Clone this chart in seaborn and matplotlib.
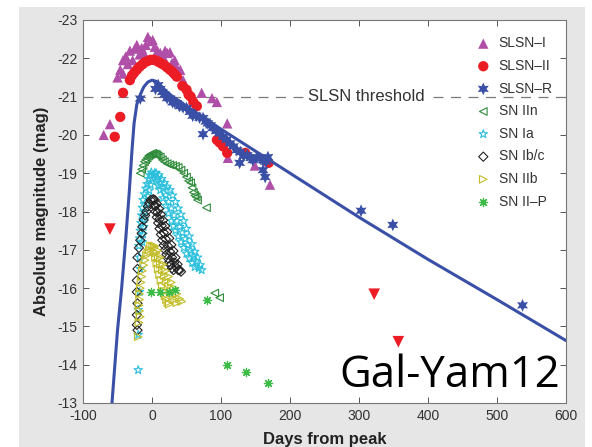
import matplotlib
matplotlib.use("Agg")
import matplotlib.pyplot as plt
from matplotlib.patches import Rectangle
import seaborn as sns

# days from peak / absolute magnitude
slsn1_d = [-70, -61, -50, -46, -42, -42, -38, -35, -32, -28, -25, -22, -18, -15, -12, -9, -6, -2, 1, 4,
           8, 12, 16, 19, 22, 26, 29, 33, 36, 38, 41, 45, 72, 87, 94, 109, 110, 149, 171]
slsn1_m = [-20.0, -20.28, -21.5, -21.7, -21.95, -21.6, -22.05, -21.85, -22.2, -21.95, -22.25, -22.35, -22.1,
           -22.27, -22.15, -22.35, -22.56, -22.45, -22.48, -22.3, -22.2, -22.14, -22.05, -22.2, -22.14, -22.16,
           -21.88, -21.95, -21.75, -21.56, -21.7, -21.43, -21.1, -20.96, -20.86, -20.3, -19.4, -19.2, -18.7]

slsn2_d = [-54, -46, -42, -32, -29, -26, -22, -18, -14, -10, -6, -2, 2, 6, 10, 14, 18, 22, 26, 30,
           33, 36, 44, 50, 53, 56, 60, 65, 94, 98, 103, 109, 135, 169]
slsn2_m = [-19.95, -20.47, -21.1, -21.43, -21.55, -21.62, -21.7, -21.78, -21.84, -21.9, -21.93, -21.96, -21.96,
           -21.94, -21.9, -21.86, -21.82, -21.76, -21.7, -21.64, -21.58, -21.52, -21.28, -21.18, -21.05, -21.0,
           -20.85, -20.75, -19.87, -19.8, -19.7, -19.53, -19.53, -19.27]

limit_d = [-61, 322, 357]
limit_m = [-17.54, -15.84, -14.6]

slsnr_d = [-17, 5, 9, 12, 15, 18, 22, 26, 30, 33, 36, 40, 45, 50, 55, 59, 64, 69, 74, 74,
           78, 81, 85, 88, 93, 98, 103, 108, 113, 118, 123, 128, 133, 138, 143, 146, 152, 157, 161, 161,
           165, 168, 127, 164, 303, 349, 537]
slsnr_m = [-20.95, -21.2, -21.3, -21.2, -21.12, -21.05, -20.96, -20.95, -20.85, -20.85, -20.83, -20.75, -20.72,
           -20.7, -20.6, -20.5, -20.5, -20.45, -20.44, -20.02, -20.35, -20.3, -20.25, -20.18, -20.1, -20.04,
           -19.95, -19.88, -19.78, -19.7, -19.6, -19.55, -19.45, -19.47, -19.4, -19.34, -19.42, -19.38, -19.34,
           -19.08, -19.3, -19.42, -19.27, -18.9, -18.02, -17.65, -15.55]

iin_d = [-17, -15, -13, -11, -9, -7, -5, -3, -1, 1, 3, 5, 7, 9, 12, 15, 18, 22, 26, 30,
         34, 38, 42, 46, 50, 53, 56, 58, 60, 62, 64, 66, 79, 91, 98]
iin_m = [-19.0, -19.1, -19.2, -19.3, -19.35, -19.4, -19.45, -19.48, -19.5, -19.52, -19.5, -19.5, -19.48, -19.45,
         -19.42, -19.35, -19.3, -19.25, -19.22, -19.2, -19.18, -19.15, -19.08, -19.0, -18.9, -18.8, -18.75,
         -18.62, -18.5, -18.42, -18.38, -18.3, -18.1, -15.87, -15.75]

ia_d = [3, 6, 9, 12, 16, 20, 24, 28, 31, 34, 38, 42, 46, 50, 54, 58, 62,
        6, 10, 14, 18, 22, 26, 30, 34, 38, 42, 46, 50, 54, 58, 62, 66, 70, 72,
        4, 8, 12, 16, 20, 24, 28, 32, 36, 40, 44, 48, 52, 56, 60, 64, 68,
        -1, -3, -5, -7, -9, -11, -13, -14, -15, -16, -17, -18, -19, -18, -17, -18, -20,
        0, -2, -4, -6, -8, -10, -11, -12, -13, -14, -20, -20]
ia_m = [-18.95, -18.8, -18.68, -18.56, -18.35, -18.15, -17.95, -17.75, -17.62, -17.5, -17.35, -17.2, -17.05,
        -16.9, -16.78, -16.66, -16.55,
        -19.0, -18.95, -18.85, -18.75, -18.65, -18.56, -18.42, -18.25, -18.08, -17.92, -17.75, -17.55, -17.35,
        -17.15, -16.95, -16.8, -16.6, -16.47,
        -19.0, -18.88, -18.75, -18.6, -18.42, -18.25, -18.08, -17.9, -17.75, -17.6, -17.45, -17.28, -17.12,
        -16.98, -16.83, -16.7, -16.52,
        -19.02, -18.95, -18.85, -18.72, -18.6, -18.45, -18.3, -18.1, -17.9, -17.7, -17.5, -17.3, -17.1, -16.8,
        -16.5, -15.9, -15.43,
        -18.85, -18.7, -18.55, -18.4, -18.2, -18.0, -17.8, -17.6, -17.4, -17.2, -14.78, -13.86]

ibc_d = [1, 3, 5, 7, 9, 11, 13, 15, 17, 19, 21, 23, 25, 27, 29, 31,
         4, 7, 10, 13, 16, 19, 22, 25, 28, 31, 34, 37, 40, 42,
         2, 5, 8, 11, 14, 17, 20, 23, 26, 29, 32, 35, 38,
         -2, -4, -6, -8, -10, -12, -14, -15, -17, -19, -21, -21, -22, -22, -21, -22, -22, -21]
ibc_m = [-18.3, -18.15, -18.0, -17.85, -17.7, -17.55, -17.4, -17.25, -17.12, -17.0, -16.88, -16.78, -16.68,
         -16.6, -16.52, -16.47,
         -18.3, -18.2, -18.07, -17.92, -17.77, -17.62, -17.47, -17.3, -17.13, -16.97, -16.8, -16.62, -16.47, -16.43,
         -18.32, -18.15, -17.98, -17.8, -17.63, -17.45, -17.28, -17.1, -16.95, -16.8, -16.67, -16.55, -16.47,
         -18.3, -18.22, -18.13, -18.0, -17.9, -17.78, -17.6, -17.43, -17.25, -17.05, -16.8, -16.5, -16.2, -15.9,
         -15.6, -15.3, -15.04, -14.9]

iib_d = [1, 3, 5, 7, 9, 11, 13, 15, 17, 19, 21, 23, 25,
         4, 8, 12, 16, 20, 24, 28, 32, 36, 40, 43,
         3, 6, 9, 12, 15, 18, 21, 24, 27, 30, 33, 36,
         -2, -4, -6, -8, -10, -12, -14, -15, -16, -17, -18, -18, -19, -18, -17, -19, -20]
iib_m = [-17.1, -16.95, -16.8, -16.65, -16.5, -16.35, -16.2, -16.05, -15.92, -15.8, -15.7, -15.62, -15.58,
         -17.1, -16.98, -16.8, -16.62, -16.45, -16.3, -16.15, -16.0, -15.85, -15.72, -15.65,
         -17.05, -16.92, -16.78, -16.62, -16.48, -16.33, -16.18, -16.05, -15.92, -15.8, -15.7, -15.62,
         -17.1, -17.0, -16.92, -16.85, -16.73, -16.6, -16.45, -16.3, -16.15, -16.0, -15.85, -15.7, -15.55,
         -15.4, -15.25, -15.1, -14.73]

iip_d = [-1, 12, 24, 33, 79, 108, 136, 168]
iip_m = [-15.9, -15.89, -15.89, -15.95, -15.69, -13.99, -13.8, -13.53]

# model light curve
curve_d = [-58, -50, -44, -38, -33, -29, -26, -22, -17, -12, -6, 0, 6, 12, 20, 30, 50, 100,
           200, 300, 400, 500, 600]
curve_m = [-13.0, -14.9, -16.0, -17.3, -18.5, -19.6, -20.3, -20.8, -21.05, -21.25, -21.38, -21.43, -21.4,
           -21.3, -21.15, -21.0, -20.75, -20.15, -19.0, -17.85, -16.75, -15.7, -14.63]

sns.set_theme(style="ticks")
plt.rcParams['font.family'] = ['Liberation Sans', 'DejaVu Sans']
plt.rcParams['axes.unicode_minus'] = False

fig = plt.figure(figsize=(5.92, 4.47), dpi=100, facecolor='white')
fig.patches.append(Rectangle((19 / 592, 0), 566 / 592, 440 / 447, transform=fig.transFigure,
                             facecolor='#e6e6e6', edgecolor='none', zorder=-10))
ax = fig.add_axes([83 / 592, 44 / 447, 483 / 592, 383 / 447])
ax.set_facecolor('white')

ax.axhline(-21, color='#7a7a7a', lw=0.9, ls=(0, (8, 6)), zorder=1)
ax.text(311, -21, 'SLSN threshold', fontsize=12, color='#333333', ha='center', va='center',
        bbox=dict(facecolor='white', edgecolor='none', pad=1.5), zorder=2)

sns.lineplot(x=curve_d, y=curve_m, color='#3a4fa6', lw=2.2, ax=ax, zorder=4)

sns.scatterplot(x=slsn1_d, y=slsn1_m, marker='^', s=55, color='#b04fa8', edgecolor='none',
                label='SLSN–I', ax=ax, zorder=3)
sns.scatterplot(x=slsn2_d, y=slsn2_m, marker='o', s=55, color='#ec1c24', edgecolor='none',
                label='SLSN–II', ax=ax, zorder=3)
sns.scatterplot(x=slsnr_d, y=slsnr_m, marker=(6, 1, 0), s=85, color='#3a4fa6', edgecolor='none',
                label='SLSN–R', ax=ax, zorder=3)
sns.scatterplot(x=iin_d, y=iin_m, marker='<', s=30, facecolor='none', edgecolor='#2e8b3a', linewidth=0.8,
                label='SN IIn', ax=ax, zorder=3)
sns.scatterplot(x=ia_d, y=ia_m, marker='*', s=40, facecolor='none', edgecolor='#2cc0dc', linewidth=0.8,
                label='SN Ia', ax=ax, zorder=3)
sns.scatterplot(x=ibc_d, y=ibc_m, marker='D', s=22, facecolor='none', edgecolor='#222222', linewidth=0.8,
                label='SN Ib/c', ax=ax, zorder=3)
sns.scatterplot(x=iib_d, y=iib_m, marker='>', s=30, facecolor='none', edgecolor='#c2bd28', linewidth=0.8,
                label='SN IIb', ax=ax, zorder=3)
sns.scatterplot(x=iip_d, y=iip_m, marker=(8, 2, 0), s=35, color='#3dbb47', linewidth=0.9,
                label='SN II–P', ax=ax, zorder=3)
sns.scatterplot(x=limit_d, y=limit_m, marker='v', s=70, color='#ec1c24', edgecolor='none', ax=ax, zorder=3)

ax.set_xlim(-100, 600)
ax.set_ylim(-13, -23)
ax.set_xticks(range(-100, 601, 100))
ax.set_yticks(range(-23, -12))
ax.tick_params(direction='in', top=True, right=True, length=4, width=0.7, color='#555555',
               labelsize=10, labelcolor='#333333', pad=4)
for sp in ax.spines.values():
    sp.set_visible(True)
    sp.set_color('#777777')
    sp.set_linewidth(0.8)

ax.set_xlabel('Days from peak', fontsize=12, fontweight='bold', color='#222222', labelpad=7)
ax.set_ylabel('Absolute magnitude (mag)', fontsize=12, fontweight='bold', color='#222222', labelpad=6)

leg = ax.legend(loc='upper left', bbox_to_anchor=(0.80, 0.972), frameon=False, fontsize=10,
                handletextpad=0.5, labelspacing=0.62, handlelength=1.2, borderaxespad=0)
for t in leg.get_texts():
    t.set_color('#333333')

ax.text(272, -13.42, 'Gal-Yam12', fontsize=31.5, family='Open Sans', color='black',
        ha='left', va='baseline', zorder=6)

fig.savefig('out.png', dpi=100, facecolor='white')
